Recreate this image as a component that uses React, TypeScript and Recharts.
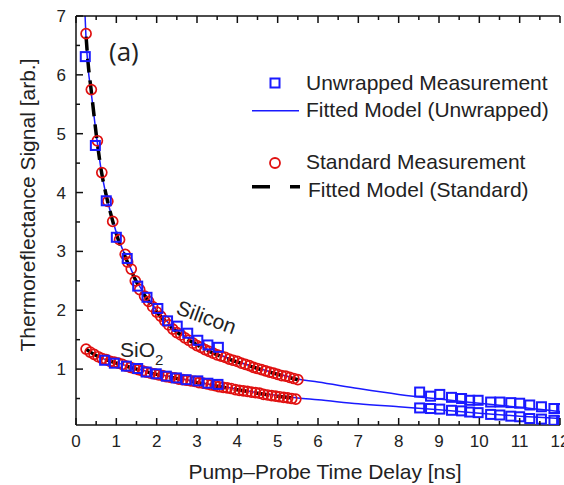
import React from "react";
import { ComposedChart, Line, Scatter, XAxis, YAxis, Label } from "recharts";

const FONT = '"Liberation Sans", Arial, sans-serif';
const BLUE = "#1a1aff";
const RED = "#e01010";

// [time (ns), signal (arb.)]
const siliconStandard: [number, number][] = [
  [0.25, 6.7], [0.38, 5.75], [0.53, 4.88], [0.64, 4.34], [0.79, 3.85], [0.91, 3.51],
  [1.08, 3.2], [1.22, 2.95], [1.28, 2.82], [1.37, 2.7], [1.47, 2.5], [1.58, 2.35],
  [1.7, 2.24], [1.8, 2.15], [1.9, 2.06], [2.0, 1.97], [2.1, 1.9], [2.2, 1.82],
  [2.3, 1.75], [2.4, 1.68], [2.5, 1.62], [2.6, 1.58], [2.7, 1.53], [2.8, 1.49],
  [2.9, 1.44], [3.0, 1.4], [3.1, 1.37], [3.2, 1.33], [3.3, 1.3], [3.4, 1.27],
  [3.5, 1.24], [3.6, 1.22], [3.7, 1.2], [3.8, 1.17], [3.9, 1.15], [4.0, 1.13],
  [4.1, 1.1], [4.2, 1.08], [4.3, 1.06], [4.4, 1.03], [4.5, 1.01], [4.6, 0.99],
  [4.7, 0.97], [4.8, 0.95], [4.9, 0.93], [5.0, 0.91], [5.1, 0.89], [5.2, 0.88],
  [5.3, 0.86], [5.4, 0.84], [5.5, 0.82],
];

const siliconUnwrapped: [number, number][] = [
  [0.23, 6.31], [0.48, 4.8], [0.75, 3.86], [1.0, 3.24], [1.27, 2.88], [1.53, 2.41],
  [1.76, 2.22], [2.03, 2.03], [2.27, 1.82], [2.51, 1.73], [2.77, 1.61], [3.02, 1.49],
  [3.27, 1.41], [3.53, 1.37],
  [8.52, 0.61], [8.79, 0.54], [9.02, 0.57], [9.31, 0.52], [9.56, 0.5], [9.76, 0.47],
  [9.97, 0.47], [10.28, 0.44], [10.51, 0.44], [10.78, 0.43], [11.0, 0.42], [11.25, 0.39],
  [11.54, 0.36], [11.85, 0.33], [12.04, 0.33],
];

const sio2Standard: [number, number][] = [
  [0.25, 1.34], [0.35, 1.29], [0.45, 1.25], [0.55, 1.21], [0.65, 1.18], [0.75, 1.16],
  [0.85, 1.13], [0.95, 1.12], [1.05, 1.1], [1.15, 1.08], [1.25, 1.05], [1.35, 1.03],
  [1.45, 1.01], [1.55, 0.99], [1.65, 0.97], [1.75, 0.95], [1.85, 0.93], [1.95, 0.92],
  [2.05, 0.9], [2.15, 0.89], [2.25, 0.87], [2.35, 0.86], [2.45, 0.85], [2.55, 0.83],
  [2.65, 0.82], [2.75, 0.81], [2.85, 0.8], [2.95, 0.79], [3.05, 0.77], [3.15, 0.76],
  [3.25, 0.75], [3.35, 0.73], [3.45, 0.72], [3.55, 0.7], [3.65, 0.69], [3.75, 0.68],
  [3.85, 0.67], [3.95, 0.65], [4.05, 0.64], [4.15, 0.63], [4.25, 0.62], [4.35, 0.61],
  [4.45, 0.6], [4.55, 0.59], [4.65, 0.57], [4.75, 0.56], [4.85, 0.55], [4.95, 0.54],
  [5.05, 0.53], [5.15, 0.52], [5.25, 0.51], [5.35, 0.5], [5.45, 0.49],
];

const sio2Unwrapped: [number, number][] = [
  [0.71, 1.15], [0.95, 1.1], [1.25, 1.05], [1.53, 1.01], [1.74, 0.95], [1.99, 0.92],
  [2.24, 0.88], [2.49, 0.85], [2.73, 0.82], [3.02, 0.8], [3.27, 0.76], [3.52, 0.74],
  [8.52, 0.34], [8.79, 0.33], [9.02, 0.32], [9.31, 0.3], [9.56, 0.29], [9.76, 0.27],
  [9.97, 0.26], [10.28, 0.23], [10.51, 0.22], [10.78, 0.2], [11.0, 0.19], [11.25, 0.16],
  [11.54, 0.15], [11.85, 0.13], [12.04, 0.12],
];

const siliconFitUnwrapped: [number, number][] = [
  [0.2, 7.4], [0.25, 6.6], [0.3, 6.12], [0.38, 5.68], [0.5, 5.0], [0.62, 4.4], [0.75, 3.95],
  [0.9, 3.56], [1.0, 3.32], [1.25, 2.88], [1.5, 2.5], [1.75, 2.23], [2.0, 2.0], [2.5, 1.66],
  [3.0, 1.43], [3.5, 1.26], [4.0, 1.13], [4.5, 1.02], [5.0, 0.92], [5.5, 0.83], [6.0, 0.78],
  [7.0, 0.67], [8.0, 0.57], [9.0, 0.49], [10.0, 0.42], [11.0, 0.35], [12.0, 0.28], [12.5, 0.25],
];

const sio2FitUnwrapped: [number, number][] = [
  [0.5, 1.23], [0.75, 1.16], [1.0, 1.11], [1.5, 1.01], [2.0, 0.92], [2.5, 0.85], [3.0, 0.78],
  [3.5, 0.72], [4.0, 0.66], [4.5, 0.6], [5.0, 0.55], [5.5, 0.51], [6.0, 0.48], [7.0, 0.41],
  [8.0, 0.36], [9.0, 0.31], [10.0, 0.25], [11.0, 0.2], [12.0, 0.16], [12.5, 0.14],
];

const siliconFitStandard: [number, number][] = [
  [0.25, 6.65], [0.3, 6.2], [0.38, 5.72], [0.5, 5.0], [0.62, 4.4], [0.75, 3.95], [0.9, 3.54],
  [1.0, 3.3], [1.25, 2.86], [1.5, 2.48], [1.75, 2.2], [2.0, 1.97], [2.5, 1.63], [3.0, 1.41],
  [3.5, 1.24], [4.0, 1.12], [4.5, 1.01], [5.0, 0.91], [5.5, 0.82],
];

const sio2FitStandard: [number, number][] = [
  [0.25, 1.34], [0.5, 1.23], [0.75, 1.16], [1.0, 1.1], [1.5, 1.0], [2.0, 0.91], [2.5, 0.84],
  [3.0, 0.77], [3.5, 0.71], [4.0, 0.65], [4.5, 0.59], [5.0, 0.54], [5.5, 0.5],
];

const xTicks = [0, 0.5, 1, 1.5, 2, 2.5, 3, 3.5, 4, 4.5, 5, 5.5, 6, 6.5, 7, 7.5, 8, 8.5, 9, 9.5, 10, 10.5, 11, 11.5, 12];
const yTicks = [0.5, 1, 1.5, 2, 2.5, 3, 3.5, 4, 4.5, 5, 5.5, 6, 6.5, 7];

const rows = (pts: [number, number][]) => pts.map(([t, v]) => ({ t, v }));

function BottomTick({ x, y, payload }: any) {
  const major = Number.isInteger(payload.value);
  return (
    <g>
      <line x1={x} x2={x} y1={y} y2={y - (major ? 7 : 4)} stroke="#111" strokeWidth={1.5} />
      {major && (
        <text x={x} y={y + 22} textAnchor="middle" fontSize={17} fill="#222" fontFamily={FONT}>
          {payload.value}
        </text>
      )}
    </g>
  );
}

function TopTick({ x, y, payload }: any) {
  const major = Number.isInteger(payload.value);
  return <line x1={x} x2={x} y1={y} y2={y + (major ? 7 : 4)} stroke="#111" strokeWidth={1.5} />;
}

function LeftTick({ x, y, payload }: any) {
  const major = Number.isInteger(payload.value);
  return (
    <g>
      <line x1={x} x2={x + (major ? 7 : 4)} y1={y} y2={y} stroke="#111" strokeWidth={1.5} />
      {major && (
        <text x={x - 10} y={y + 6} textAnchor="end" fontSize={17} fill="#222" fontFamily={FONT}>
          {payload.value}
        </text>
      )}
    </g>
  );
}

const Square = (p: any) => (
  <rect x={p.cx - 4.5} y={p.cy - 4.5} width={9} height={9} fill="none" stroke={BLUE} strokeWidth={2} />
);
const Ring = (p: any) => <circle cx={p.cx} cy={p.cy} r={5} fill="none" stroke={RED} strokeWidth={1.7} />;

export default function App() {
  return (
    <div style={{ position: "absolute", left: 0, top: 0, width: 580, height: 485, background: "#fff" }}>
      <ComposedChart width={580} height={485} margin={{ top: 15, right: 20, bottom: 0, left: 0 }}>
        <XAxis
          xAxisId="top"
          orientation="top"
          type="number"
          dataKey="t"
          domain={[0, 12]}
          allowDataOverflow
          ticks={xTicks}
          interval={0}
          height={1}
          tickSize={0}
          tickMargin={0}
          tickLine={false}
          tick={<TopTick />}
          axisLine={{ stroke: "#111", strokeWidth: 1.5 }}
        />
        <XAxis
          type="number"
          dataKey="t"
          domain={[0, 12]}
          allowDataOverflow
          ticks={xTicks}
          interval={0}
          height={60}
          tickSize={0}
          tickMargin={0}
          tickLine={false}
          tick={<BottomTick />}
          axisLine={{ stroke: "#111", strokeWidth: 1.5 }}
        >
          <Label
            content={({ viewBox }: any) => (
              <text
                x={viewBox.x + viewBox.width / 2 + 7}
                y={viewBox.y + 54}
                textAnchor="middle"
                fontSize={21}
                fill="#222"
                fontFamily={FONT}
              >
                Pump–Probe Time Delay [ns]
              </text>
            )}
          />
        </XAxis>
        <YAxis
          type="number"
          dataKey="v"
          domain={[0.05, 7]}
          allowDataOverflow
          ticks={yTicks}
          interval={0}
          width={76}
          tickSize={0}
          tickMargin={0}
          tickLine={false}
          tick={<LeftTick />}
          axisLine={{ stroke: "#111", strokeWidth: 1.5 }}
        >
          <Label
            content={() => {
              const cx = 35;
              const cy = 205;
              return (
                <text
                  x={cx}
                  y={cy}
                  transform={`rotate(-90 ${cx} ${cy})`}
                  textAnchor="middle"
                  fontSize={21}
                  fill="#222"
                  fontFamily={FONT}
                >
                  Thermoreflectance Signal [arb.]
                </text>
              );
            }}
          />
        </YAxis>

        <Scatter data={rows(siliconStandard)} dataKey="v" shape={Ring} isAnimationActive={false} />
        <Scatter data={rows(sio2Standard)} dataKey="v" shape={Ring} isAnimationActive={false} />
        <Scatter data={rows(siliconUnwrapped)} dataKey="v" shape={Square} isAnimationActive={false} />
        <Scatter data={rows(sio2Unwrapped)} dataKey="v" shape={Square} isAnimationActive={false} />
        <Line data={rows(siliconFitUnwrapped)} dataKey="v" type="monotone" stroke={BLUE} strokeWidth={1.5} dot={false} isAnimationActive={false} />
        <Line data={rows(sio2FitUnwrapped)} dataKey="v" type="monotone" stroke={BLUE} strokeWidth={1.5} dot={false} isAnimationActive={false} />
        <Line data={rows(siliconFitStandard)} dataKey="v" type="monotone" stroke="#000" strokeWidth={3.5} strokeDasharray="14 8" dot={false} isAnimationActive={false} />
        <Line data={rows(sio2FitStandard)} dataKey="v" type="monotone" stroke="#000" strokeWidth={3.5} strokeDasharray="14 8" dot={false} isAnimationActive={false} />
      </ComposedChart>

      <svg width={580} height={485} style={{ position: "absolute", left: 0, top: 0, pointerEvents: "none" }}>
        <text x={109} y={61} fontSize={26} fill="#222" fontFamily='"Open Sans", sans-serif'>(a)</text>
        <text x={204} y={324} transform="rotate(20 204 324)" textAnchor="middle" fontSize={21} fill="#222" fontFamily={FONT}>
          Silicon
        </text>
        <text x={120} y={357} fontSize={21} fill="#222" fontFamily={FONT}>
          SiO<tspan fontSize={15} dy={8}>2</tspan>
        </text>

        <g fontFamily={FONT} fontSize={21} fill="#222">
          <rect x={270.5} y={78.5} width={9} height={9} fill="none" stroke={BLUE} strokeWidth={2} />
          <text x={306} y={90}>Unwrapped Measurement</text>
          <line x1={252} x2={299} y1={110.7} y2={110.7} stroke={BLUE} strokeWidth={1.5} />
          <text x={306} y={117}>Fitted Model (Unwrapped)</text>
          <circle cx={275} cy={163} r={5} fill="none" stroke={RED} strokeWidth={1.8} />
          <text x={306} y={169}>Standard Measurement</text>
          <line x1={252} x2={300} y1={186.7} y2={186.7} stroke="#000" strokeWidth={3.5} strokeDasharray="18 20" />
          <text x={308} y={197}>Fitted Model (Standard)</text>
        </g>
      </svg>
    </div>
  );
}
